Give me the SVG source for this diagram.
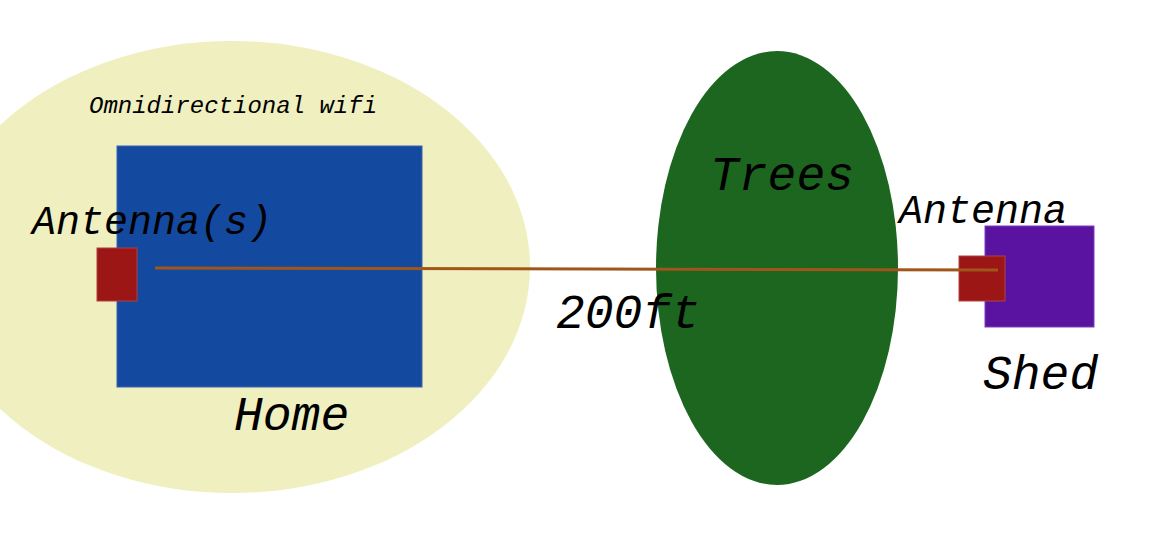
<svg xmlns="http://www.w3.org/2000/svg" width="1158" height="548" viewBox="0 0 1158 548">
<style>
text{font-family:"Liberation Mono","Courier New",monospace;font-style:italic;fill:#000}
.ant{fill:#9c1616;stroke:#b04040;stroke-width:1}
</style>
<rect width="1158" height="548" fill="#fff"/>
<g id="wifi">
<ellipse cx="232" cy="267" rx="298" ry="226" fill="#efefbf"/>
<text x="89" y="113" font-size="24">Omnidirectional wifi</text>
</g>
<g id="home">
<rect x="117" y="146" width="305" height="241" fill="#1449a0" stroke="#3a62b0" stroke-width="1"/>
<text x="234" y="430" font-size="48">Home</text>
</g>
<g id="trees">
<ellipse cx="777" cy="268" rx="121" ry="217" fill="#1c661f"/>
<text x="710" y="190" font-size="48">Trees</text>
</g>
<g id="shed">
<rect x="985" y="226" width="109" height="101" fill="#5a13a0" stroke="#7a40b8" stroke-width="1"/>
<text x="983" y="389" font-size="48">Shed</text>
</g>
<g id="antenna-home">
<rect class="ant" x="97" y="248" width="40" height="53"/>
<text x="32" y="234" font-size="40">Antenna(s)</text>
</g>
<g id="antenna-shed">
<rect class="ant" x="959" y="256" width="46" height="45"/>
<text x="899" y="223" font-size="40">Antenna</text>
</g>
<g id="connectors">
<polyline points="155,268 998,270" fill="none" stroke="#a0561a" stroke-width="3"/>
<text x="556" y="328" font-size="48">200ft</text>
</g>
</svg>
